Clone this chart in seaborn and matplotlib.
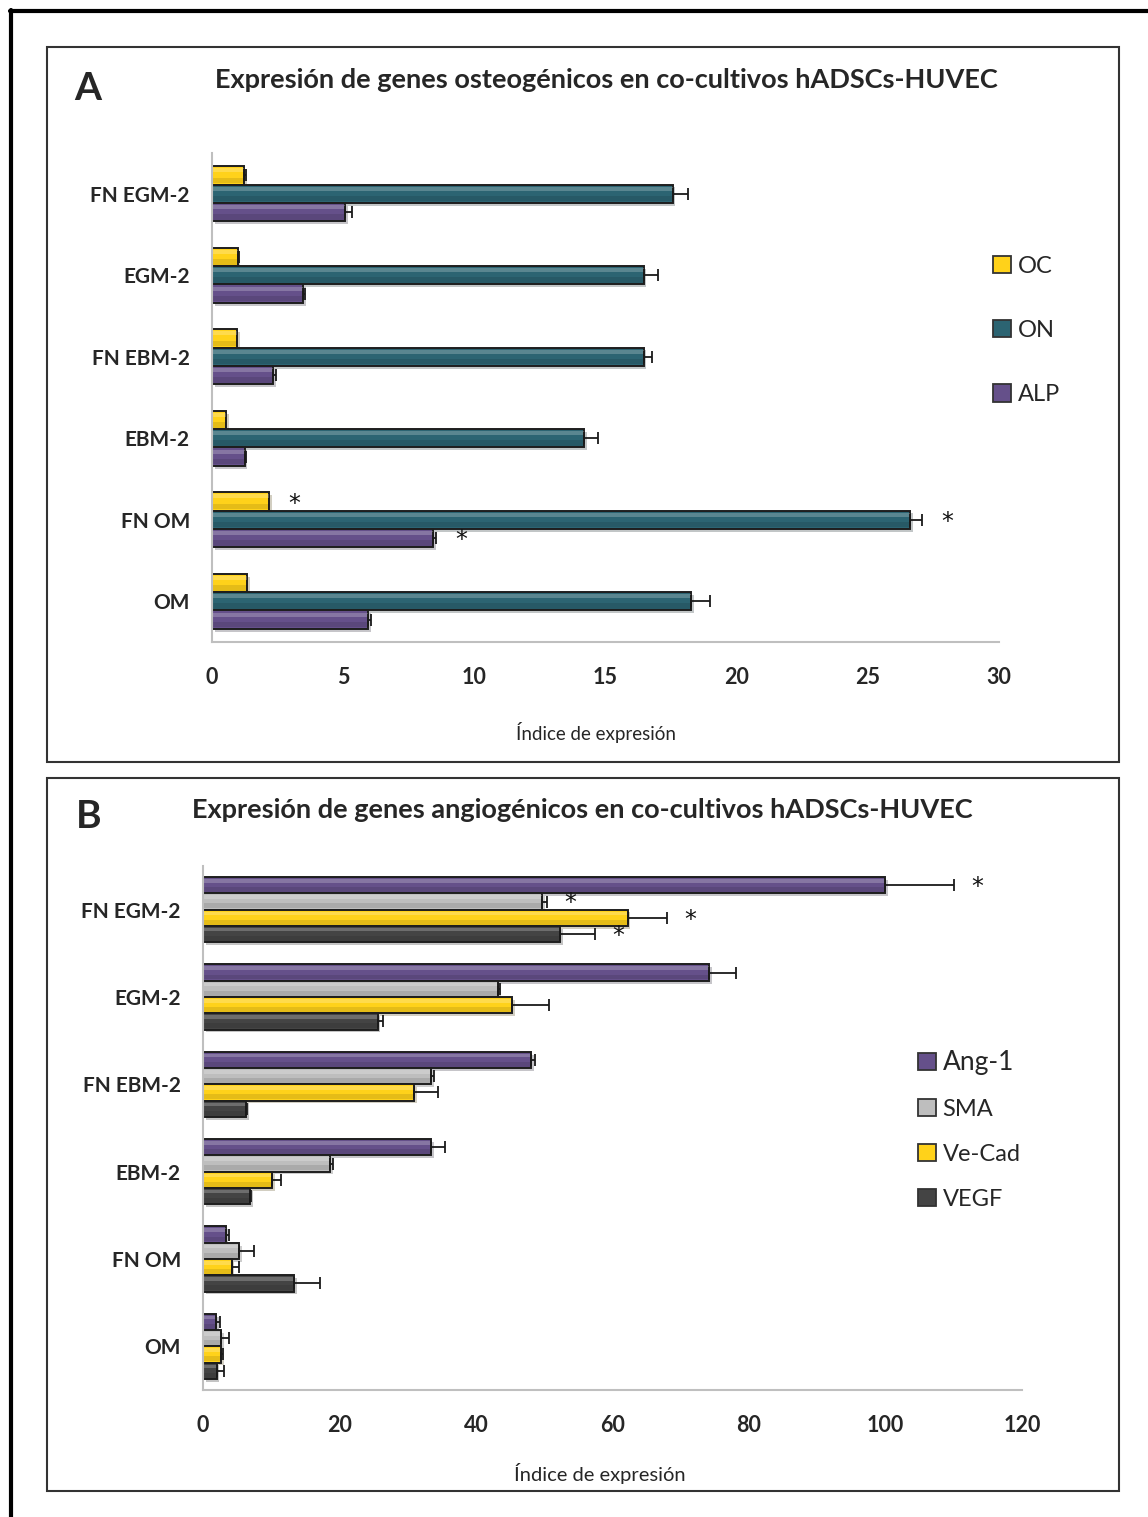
import numpy as np
import pandas as pd
import matplotlib
matplotlib.use("Agg")
import matplotlib.pyplot as plt
import seaborn as sns
from matplotlib.patches import Rectangle
from matplotlib.lines import Line2D
import matplotlib.patheffects as pe

# ---- data -----------------------------------------------------------------
conditions = ["FN EGM-2", "EGM-2", "FN EBM-2", "EBM-2", "FN OM", "OM"]

osteo_genes = ["OC", "ON", "ALP"]
oc_mean = [1.22, 0.98, 0.97, 0.55, 2.19, 1.35]
oc_err = [0.08, 0.05, 0.0, 0.0, 0.0, 0.0]
on_mean = [17.56, 16.45, 16.45, 14.18, 26.61, 18.25]
on_err = [0.57, 0.57, 0.33, 0.55, 0.45, 0.74]
alp_mean = [5.07, 3.46, 2.34, 1.24, 8.43, 5.94]
alp_err = [0.25, 0.10, 0.09, 0.06, 0.12, 0.14]
osteo_signif = {"FN OM": ["OC", "ON", "ALP"]}

angio_genes = ["Ang-1", "SMA", "Ve-Cad", "VEGF"]
ang1_mean = [100.0, 74.2, 48.1, 33.4, 3.3, 1.9]
ang1_err = [10.0, 3.9, 0.5, 2.0, 0.5, 0.6]
sma_mean = [49.7, 43.2, 33.4, 18.6, 5.3, 2.7]
sma_err = [0.7, 0.3, 0.4, 0.5, 2.2, 1.1]
vecad_mean = [62.2, 45.3, 30.9, 10.1, 4.2, 2.6]
vecad_err = [5.8, 5.4, 3.6, 1.4, 1.1, 0.35]
vegf_mean = [52.3, 25.6, 6.3, 6.9, 13.3, 2.0]
vegf_err = [5.2, 0.8, 0.2, 0.2, 3.8, 1.1]
angio_signif = {"FN EGM-2": ["Ang-1", "SMA", "Ve-Cad", "VEGF"]}

osteo_colors = ["#FFD21A", "#2C6472", "#65508A"]
angio_colors = ["#65508A", "#BEBEBE", "#FFD21A", "#444444"]

# ---- styling ----------------------------------------------------------------
sns.set_theme(style="white")
plt.rcParams["font.family"] = ["Lato", "DejaVu Sans"]

W, H = 1148, 1517
fig = plt.figure(figsize=(W / 100, H / 100), dpi=100)


def fx(x):
    return x / W


def fy(y):
    return 1 - y / H


AXIS_GREY = "#BFBFBF"


def long_table(genes, means, errs):
    rows = []
    for g, m, e in zip(genes, means, errs):
        for c, v, s in zip(conditions, m, e):
            rows.append({"condition": c, "gene": g, "value": v, "err": s})
    return pd.DataFrame(rows)


def draw_panel(ax, df, genes, colors, width, xmax, xstep, signif, star_px):
    sns.barplot(data=df, x="value", y="condition", hue="gene",
                order=conditions, hue_order=genes, palette=colors,
                errorbar=None, width=width, gap=0, saturation=1,
                edgecolor="#1E1E1E", linewidth=1.4, legend=False,
                orient="h", ax=ax)
    shadow = [pe.SimplePatchShadow(offset=(2, -2), alpha=0.25), pe.Normal()]
    px_to_data = xmax / (ax.get_position().width * W)
    for gene, cont in zip(genes, ax.containers):
        sub = df[df["gene"] == gene].set_index("condition").loc[conditions]
        for bar, cond in zip(cont, conditions):
            bar.set_path_effects(shadow)
            x0, y0 = bar.get_x(), bar.get_y()
            w, h = bar.get_width(), bar.get_height()
            # bevel highlight along the upper edge of each bar
            ax.add_patch(Rectangle((x0, y0 + h * 0.12), w, h * 0.22,
                                   facecolor="white", alpha=0.22,
                                   edgecolor="none", zorder=bar.get_zorder() + 0.1))
            ax.add_patch(Rectangle((x0, y0 + h * 0.62), w, h * 0.30,
                                   facecolor="black", alpha=0.10,
                                   edgecolor="none", zorder=bar.get_zorder() + 0.1))
            err = sub.loc[cond, "err"]
            yc = y0 + h / 2
            if err > 0:
                ax.errorbar(w, yc, xerr=[[0], [err]], fmt="none",
                            ecolor="#1A1A1A", elinewidth=1.3, capsize=4,
                            capthick=1.3, zorder=5)
            if gene in signif.get(cond, []):
                ax.text(w + err + star_px * px_to_data, yc + h * 0.12, "*",
                        ha="center", va="center", fontsize=17,
                        color="#111111", family=["DejaVu Sans"])

    ax.set_xlim(0, xmax)
    ax.set_xticks(np.arange(0, xmax + 0.1, xstep))
    ax.set_ylim(len(conditions) - 0.5, -0.5)
    ax.set_yticks(np.arange(-0.5, len(conditions), 1.0))
    ax.set_yticklabels([])
    ax.set_yticks(np.arange(len(conditions)), minor=True)
    ax.set_yticklabels(conditions, minor=True)
    ax.tick_params(axis="y", which="minor", length=0, pad=16,
                   labelsize=15)
    ax.tick_params(axis="y", which="major", length=6, width=1.3,
                   color=AXIS_GREY, direction="out")
    ax.tick_params(axis="x", length=7, width=1.3, color=AXIS_GREY,
                   direction="out", pad=11, labelsize=15.5)
    for lab in ax.get_xticklabels() + ax.get_yticklabels(minor=True):
        lab.set_fontweight("bold")
    for s in ("top", "right"):
        ax.spines[s].set_visible(False)
    for s in ("left", "bottom"):
        ax.spines[s].set_color(AXIS_GREY)
        ax.spines[s].set_linewidth(1.5)
    ax.set_xlabel("")
    ax.set_ylabel("")
    ax.grid(False)


# ---- panel A ----------------------------------------------------------------
axA = fig.add_axes([fx(212), fy(642), fx(999) - fx(212), fy(153) - fy(642)])
dfA = long_table(osteo_genes, [oc_mean, on_mean, alp_mean],
                 [oc_err, on_err, alp_err])
draw_panel(axA, dfA, osteo_genes, osteo_colors, 0.675, 30, 5, osteo_signif, 25)

# ---- panel B ----------------------------------------------------------------
axB = fig.add_axes([fx(203), fy(1390), fx(1022) - fx(203), fy(866) - fy(1390)])
dfB = long_table(angio_genes, [ang1_mean, sma_mean, vecad_mean, vegf_mean],
                 [ang1_err, sma_err, vecad_err, vegf_err])
draw_panel(axB, dfB, angio_genes, angio_colors, 0.745, 120, 20, angio_signif, 23)

# ---- titles, labels, legends ------------------------------------------------
fig.text(fx(88), fy(88), "A", ha="center", va="center", fontsize=28,
         fontweight="bold")
fig.text(fx(89), fy(816), "B", ha="center", va="center", fontsize=28,
         fontweight="bold")
fig.text(fx(606), fy(80),
         "Expresión de genes osteogénicos en co-cultivos hADSCs-HUVEC",
         ha="center", va="center", fontsize=19.5, fontweight="bold")
fig.text(fx(582), fy(810),
         "Expresión de genes angiogénicos en co-cultivos hADSCs-HUVEC",
         ha="center", va="center", fontsize=19.5, fontweight="bold")
fig.text(fx(596), fy(733), "Índice de expresión", ha="center", va="center",
         fontsize=13.5)
fig.text(fx(600), fy(1474), "Índice de expresión", ha="center", va="center",
         fontsize=14.5)


def square(c):
    return Rectangle((0, 0), 1, 1, facecolor=c, edgecolor="#333333",
                     linewidth=1.3)


legA = fig.legend([square(c) for c in osteo_colors], osteo_genes,
                  loc="upper left", bbox_to_anchor=(fx(981), fy(244)),
                  frameon=False, fontsize=17, handlelength=0.75,
                  handleheight=0.75, handletextpad=0.3, labelspacing=1.83,
                  borderpad=0)
legB = fig.legend([square(c) for c in angio_colors], angio_genes,
                  loc="upper left", bbox_to_anchor=(fx(906), fy(1038)),
                  frameon=False, fontsize=17, handlelength=0.75,
                  handleheight=0.75, handletextpad=0.3, labelspacing=1.02,
                  borderpad=0)
legB.get_texts()[0].set_fontsize(19)

# ---- frames -----------------------------------------------------------------
for (x0, y0, x1, y1) in [(47, 47, 1119, 762), (47, 778, 1119, 1491)]:
    fig.patches.append(Rectangle((fx(x0), fy(y1)), fx(x1) - fx(x0),
                                 fy(y0) - fy(y1), transform=fig.transFigure,
                                 fill=False, edgecolor="#333333",
                                 linewidth=1.5))
fig.lines.append(Line2D([fx(10), 1.0], [fy(11), fy(11)],
                        transform=fig.transFigure, color="black", lw=3))
fig.lines.append(Line2D([fx(11), fx(11)], [fy(10), 0.0],
                        transform=fig.transFigure, color="black", lw=3))

fig.savefig("out.png", dpi=100, facecolor="white")
